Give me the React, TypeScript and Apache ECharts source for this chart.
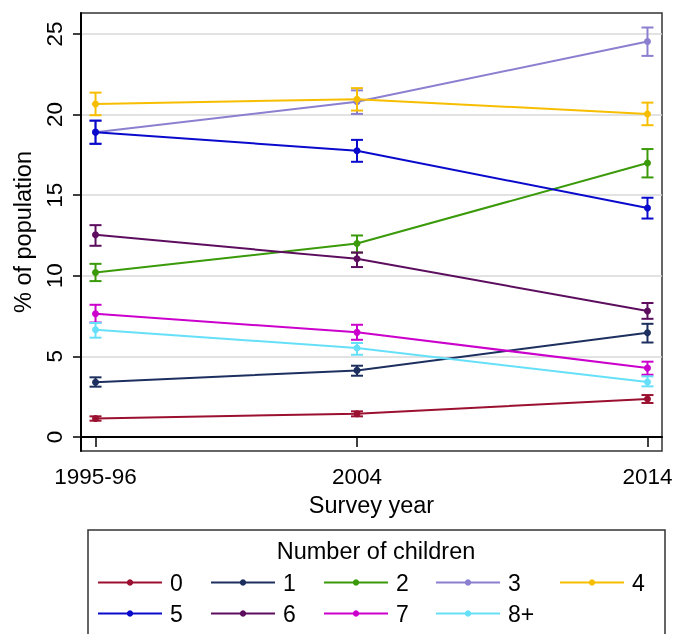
import React, { useEffect, useRef } from "react";
import * as echarts from "echarts";

const years = [1995, 2004, 2014];
const yearLabels = ["1995-96", "2004", "2014"];
const yTicks = [0, 5, 10, 15, 20, 25];
const groupNames = ["0", "1", "2", "3", "4", "5", "6", "7", "8+"];
const colors = ["#9b1030", "#1c2f5e", "#3a9a0a", "#8b7fd0", "#f7be00", "#0a0acc", "#5c0d5e", "#cc00cc", "#66e0f8"];

const mean0 = [1.15, 1.44, 2.36];
const lo0 = [1.01, 1.28, 2.11];
const hi0 = [1.28, 1.59, 2.6];
const mean1 = [3.39, 4.13, 6.47];
const lo1 = [3.12, 3.8, 5.86];
const hi1 = [3.7, 4.42, 7.02];
const mean2 = [10.2, 12.0, 16.99];
const lo2 = [9.67, 11.44, 16.1];
const hi2 = [10.74, 12.5, 17.86];
const mean3 = [18.9, 20.8, 24.53];
const lo3 = [18.2, 20.04, 23.64];
const hi3 = [19.6, 21.5, 25.4];
const mean4 = [20.66, 20.95, 20.04];
const lo4 = [19.96, 20.25, 19.34];
const hi4 = [21.36, 21.64, 20.74];
const mean5 = [18.91, 17.75, 14.2];
const lo5 = [18.18, 17.07, 13.55];
const hi5 = [19.63, 18.43, 14.84];
const mean6 = [12.54, 11.05, 7.81];
const lo6 = [11.86, 10.54, 7.33];
const hi6 = [13.14, 11.44, 8.31];
const mean7 = [7.64, 6.49, 4.28];
const lo7 = [7.1, 6.03, 3.86];
const hi7 = [8.2, 6.96, 4.67];
const mean8 = [6.65, 5.52, 3.41];
const lo8 = [6.16, 5.1, 3.14];
const hi8 = [7.07, 5.83, 3.76];

const means = [mean0, mean1, mean2, mean3, mean4, mean5, mean6, mean7, mean8];
const lows = [lo0, lo1, lo2, lo3, lo4, lo5, lo6, lo7, lo8];
const highs = [hi0, hi1, hi2, hi3, hi4, hi5, hi6, hi7, hi8];

const FONT = "'Liberation Sans', Arial, sans-serif";

export default function App() {
  const ref = useRef<HTMLDivElement>(null);
  useEffect(() => {
    if (!ref.current) return;
    const chart = echarts.init(ref.current, null, { renderer: "svg" });

    const series: any[] = [];
    groupNames.forEach((name, i) => {
      const color = colors[i];
      series.push({
        name: name + "_ci",
        type: "custom",
        data: years.map((y, k) => [y, lows[i][k], highs[i][k]]),
        z: 2 + i,
        renderItem: (params: any, api: any) => {
          const x = api.value(0);
          const top = api.coord([x, api.value(2)]);
          const bot = api.coord([x, api.value(1)]);
          const w = 6;
          const st = { stroke: color, lineWidth: 2 };
          return {
            type: "group",
            children: [
              { type: "line", shape: { x1: top[0], y1: top[1], x2: bot[0], y2: bot[1] }, style: st },
              { type: "line", shape: { x1: top[0] - w, y1: top[1], x2: top[0] + w, y2: top[1] }, style: st },
              { type: "line", shape: { x1: bot[0] - w, y1: bot[1], x2: bot[0] + w, y2: bot[1] }, style: st },
            ],
          };
        },
      });
      series.push({
        name,
        type: "line",
        data: years.map((y, k) => [y, means[i][k]]),
        symbol: "circle",
        symbolSize: 7,
        z: 2 + i,
        itemStyle: { color },
        lineStyle: { color, width: 2 },
      });
    });

    const legendPos = [
      [97, 0], [210, 0], [323, 0], [435, 0], [559, 0],
      [97, 1], [210, 1], [323, 1], [435, 1],
    ];
    const legends = groupNames.map((name, i) => ({
      data: [name],
      left: legendPos[i][0],
      top: legendPos[i][1] === 0 ? 571 : 602,
      padding: 0,
      itemWidth: 64,
      itemHeight: 8,
      itemGap: 0,
      selectedMode: false,
      textStyle: { color: "#000", fontSize: 23, fontFamily: FONT, padding: [0, 0, 0, 3] },
    }));

    chart.setOption({
      animation: false,
      textStyle: { fontFamily: FONT },
      grid: {
        left: 81,
        right: 26,
        top: 13,
        bottom: 183,
        show: true,
        borderColor: "#333",
        borderWidth: 1.5,
        containLabel: false,
      },
      xAxis: {
        type: "value",
        min: 1994.5,
        max: 2014.5,
        name: "Survey year",
        nameLocation: "middle",
        nameGap: 39,
        nameTextStyle: { color: "#000", fontSize: 23.5, fontFamily: FONT },
        axisLine: { lineStyle: { color: "#000", width: 2 } },
        axisTick: { customValues: years, length: 10, lineStyle: { color: "#000", width: 1.5 } },
        axisLabel: {
          customValues: years,
          color: "#000",
          fontSize: 22.5,
          fontFamily: FONT,
          margin: 14,
          formatter: (v: number) => yearLabels[years.indexOf(v)] ?? "",
        },
        splitLine: { show: false },
      },
      yAxis: {
        type: "value",
        min: -0.87,
        max: 26.3,
        name: "% of population",
        nameLocation: "middle",
        nameGap: 38,
        nameTextStyle: { color: "#000", fontSize: 23.5, fontFamily: FONT },
        axisLine: { show: true, lineStyle: { color: "#000", width: 2 } },
        axisTick: { customValues: yTicks, length: 8, lineStyle: { color: "#000", width: 1.5 } },
        axisLabel: {
          customValues: yTicks,
          color: "#000",
          fontSize: 22.5,
          fontFamily: FONT,
          rotate: 90,
          margin: 15,
        },
        splitLine: { show: true, lineStyle: { color: "#d8d8d8", width: 1.5 } },
      },
      legend: legends,
      graphic: [
        {
          type: "rect",
          shape: { x: 88, y: 530, width: 577, height: 130 },
          style: { fill: "none", stroke: "#333", lineWidth: 1.5 },
        },
        {
          type: "text",
          x: 376,
          y: 551,
          style: {
            text: "Number of children",
            fill: "#000",
            fontSize: 23.5,
            fontFamily: FONT,
            textAlign: "center",
            textVerticalAlign: "middle",
          },
        },
      ],
      series,
    });
    return () => chart.dispose();
  }, []);
  return <div ref={ref} style={{ position: "fixed", left: 0, top: 0, width: 688, height: 634 }} />;
}
